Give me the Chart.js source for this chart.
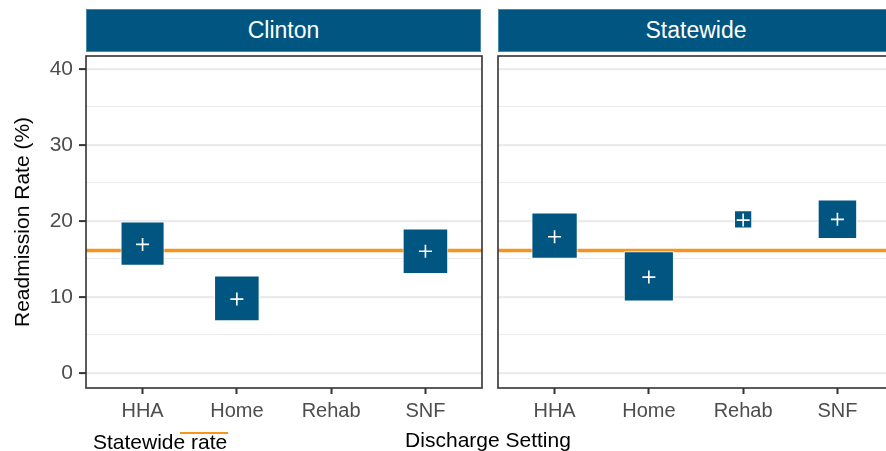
<!DOCTYPE html>
<html>
  <head>
    <title>Readmission Rate by Discharge Setting</title>
    <script src="https://cdn.jsdelivr.net/npm/chart.js"></script>
    <style>
      body {
        margin: 0;
        width: 886px;
        height: 451px;
        overflow: hidden;
        position: relative;
        background: #ffffff;
        font-family: "Liberation Sans", Arial, sans-serif;
      }
      .strip {
        position: absolute;
        top: 9px;
        height: 43px;
        background-color: #005581;
        border: 1px solid #4a86a8;
        box-sizing: border-box;
        color: #ffffff;
        font-size: 23px;
        line-height: 41px;
        text-align: center;
      }
      .panel {
        position: absolute;
        top: 0;
        width: 484px;
        height: 430px;
      }
      #yTitle {
        position: absolute;
        left: 22px;
        top: 222px;
        transform: translate(-50%, -50%) rotate(-90deg);
        white-space: nowrap;
        font-size: 21px;
        color: #000000;
      }
      #xTitle {
        position: absolute;
        left: 488px;
        top: 440px;
        transform: translate(-50%, -50%);
        white-space: nowrap;
        font-size: 21px;
        color: #000000;
      }
      #legend {
        position: absolute;
        left: 93px;
        top: 430px;
        font-size: 21px;
        color: #000000;
        white-space: nowrap;
      }
      #legendKey {
        position: absolute;
        left: 180px;
        top: 432px;
        width: 48px;
        height: 2px;
        background: #f7941d;
      }
    </style>
  </head>
  <body>
    <div class="strip" style="left: 86px; width: 395px">Clinton</div>
    <div class="strip" style="left: 498px; width: 396px">Statewide</div>

    <div class="panel" style="left: 0px"><canvas id="clintonChart" width="484" height="430"></canvas></div>
    <div class="panel" style="left: 412px"><canvas id="statewideChart" width="484" height="430"></canvas></div>

    <div id="yTitle">Readmission Rate (%)</div>
    <div id="xTitle">Discharge Setting</div>
    <div id="legend">Statewide rate</div>
    <div id="legendKey"></div>

    <script>
      const categories = ["HHA", "Home", "Rehab", "SNF"];

      // Clinton: interval low / high and point estimate (%)
      const clintonLow = [14.1, 6.8, null, 13.0];
      const clintonHigh = [19.9, 12.8, null, 19.0];
      const clintonRate = [16.9, 9.7, null, 16.0];

      // Statewide
      const statewideLow = [15.0, 9.4, 19.0, 17.6];
      const statewideHigh = [21.1, 16.0, 21.4, 22.8];
      const statewideRate = [17.9, 12.6, 20.1, 20.2];

      const statewideLine = 16.1;
      const yTicks = [0, 10, 20, 30, 40];

      const boxColor = "#005581";
      const lineColor = "#f7941d";

      // orange reference line + panel border
      const panelPlugin = {
        id: "panelPlugin",
        beforeDatasetsDraw(chart) {
          const ctx = chart.ctx;
          const area = chart.chartArea;
          const y = chart.scales.y.getPixelForValue(statewideLine);
          ctx.save();
          ctx.strokeStyle = lineColor;
          ctx.lineWidth = 3.4;
          ctx.beginPath();
          ctx.moveTo(area.left, y);
          ctx.lineTo(area.right, y);
          ctx.stroke();
          ctx.restore();
          // make boxes square (width = height of the interval)
          chart.data.datasets.forEach((ds, i) => {
            if (ds.type === "scatter") return;
            chart.getDatasetMeta(i).data.forEach((el) => {
              el.width = Math.abs(el.base - el.y);
            });
          });
        },
        afterDraw(chart) {
          const ctx = chart.ctx;
          const area = chart.chartArea;
          ctx.save();
          ctx.strokeStyle = "#333333";
          ctx.lineWidth = 1.6;
          ctx.strokeRect(area.left, area.top, area.right - area.left, area.bottom - area.top);
          ctx.restore();
        },
      };

      function makeChart(id, low, high, rate, showY) {
        const boxData = [];
        const pointData = [];
        categories.forEach((c, i) => {
          if (low[i] !== null) {
            boxData.push({ x: i + 1, y: [low[i], high[i]] });
            pointData.push({ x: i + 1, y: rate[i] });
          }
        });

        return new Chart(document.getElementById(id), {
          type: "bar",
          data: {
            datasets: [
              {
                type: "scatter",
                data: pointData,
                pointStyle: "cross",
                pointRadius: 6.5,
                borderColor: "#ffffff",
                borderWidth: 1.6,
                order: 0,
              },
              {
                data: boxData,
                backgroundColor: boxColor,
                borderColor: "#ffffff",
                borderWidth: 1,
                borderSkipped: false,
                grouped: false,
                order: 1,
              },
            ],
          },
          options: {
            responsive: false,
            animation: false,
            layout: { autoPadding: false, padding: { top: 56, right: 2, left: 0, bottom: 0 } },
            plugins: {
              legend: { display: false },
              tooltip: { enabled: false },
            },
            scales: {
              x: {
                type: "linear",
                min: 0.4,
                max: 4.6,
                offset: false,
                afterFit: (scale) => {
                  scale.height = 42;
                  scale.paddingLeft = 0;
                  scale.paddingRight = 0;
                },
                ticks: {
                  stepSize: 1,
                  includeBounds: false,
                  callback: (v) => categories[v - 1],
                  color: "#4d4d4d",
                  font: { family: "Liberation Sans", size: 20 },
                  padding: 5,
                  maxRotation: 0,
                },
                grid: {
                  offset: false,
                  drawOnChartArea: false,
                  tickLength: 6,
                  tickColor: "#333333",
                  tickWidth: 2,
                },
                border: { display: false },
              },
              y: {
                min: -2,
                max: 41.7,
                afterFit: (scale) => {
                  scale.width = 86;
                  scale.paddingTop = 0;
                  scale.paddingBottom = 0;
                },
                ticks: {
                  stepSize: 5,
                  includeBounds: false,
                  display: showY,
                  callback: (v) => (yTicks.includes(v) ? v : ""),
                  color: "#4d4d4d",
                  font: { family: "Liberation Sans", size: 21 },
                  padding: 6,
                },
                grid: {
                  color: "#ebebeb",
                  lineWidth: (c) => (c.tick && c.tick.value % 10 === 0 ? 2.2 : 1.1),
                  tickLength: 7,
                  tickWidth: 2,
                  tickColor: (c) =>
                    showY && c.tick && c.tick.value % 10 === 0 ? "#333333" : "rgba(0,0,0,0)",
                },
                border: { display: false },
              },
            },
          },
          plugins: [panelPlugin],
        });
      }

      makeChart("clintonChart", clintonLow, clintonHigh, clintonRate, true);
      makeChart("statewideChart", statewideLow, statewideHigh, statewideRate, false);
    </script>
  </body>
</html>
